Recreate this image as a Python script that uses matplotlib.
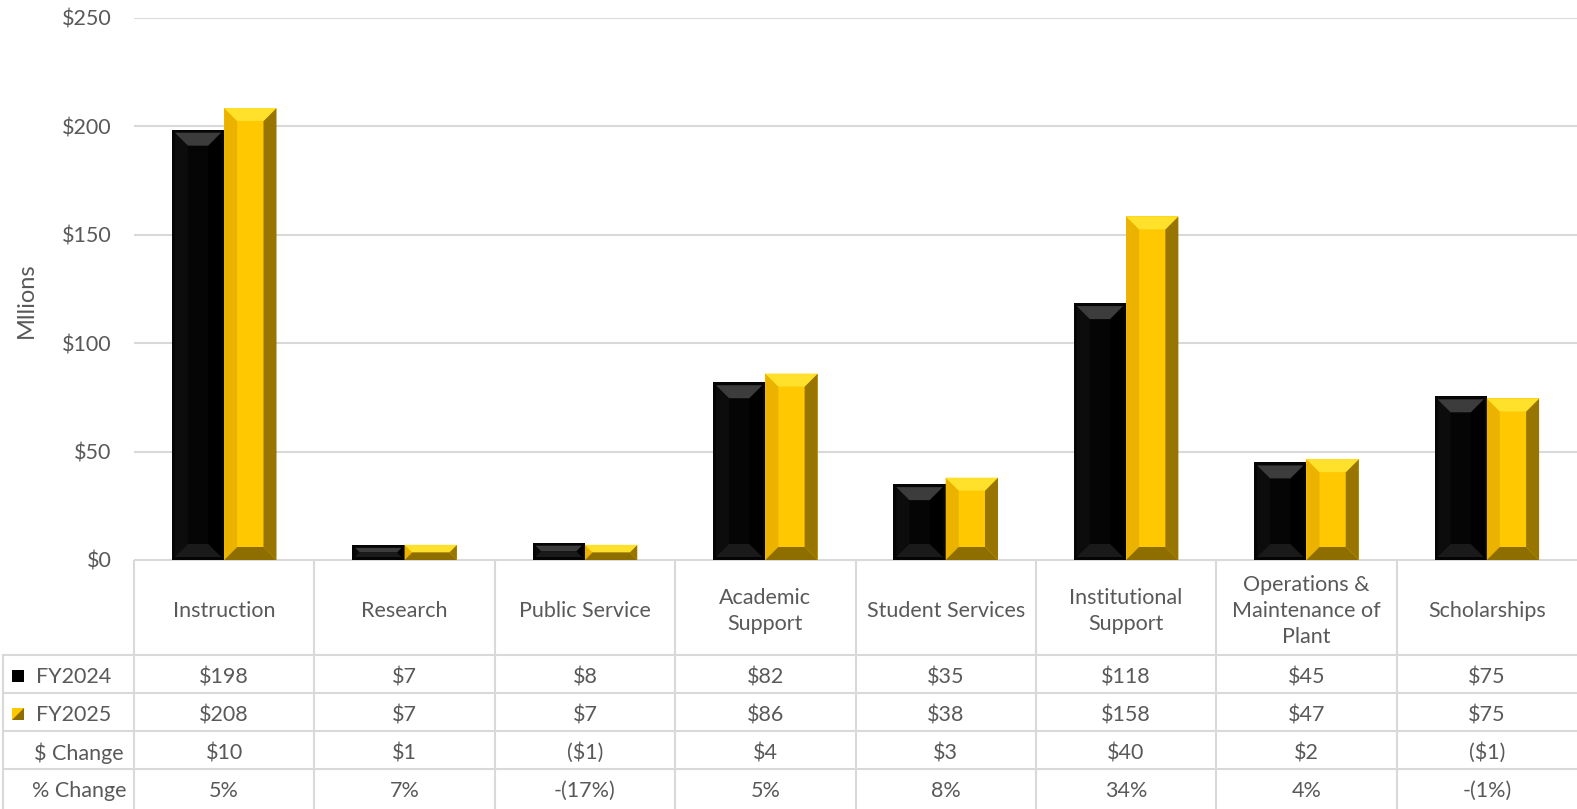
import matplotlib
matplotlib.use("Agg")
import matplotlib.pyplot as plt
from matplotlib.patches import Polygon, Rectangle

plt.rcParams['font.family'] = ['Lato', 'DejaVu Sans']

# data (millions of dollars)
categories = ['Instruction', 'Research', 'Public Service', 'Academic\nSupport',
              'Student Services', 'Institutional\nSupport',
              'Operations &\nMaintenance of\nPlant', 'Scholarships']
fy2024 = [198.5, 7, 8, 82, 35, 118.5, 45, 75.5]
fy2025 = [208.5, 7, 7, 86, 38, 158.5, 46.5, 74.5]
fy2024_txt = ['$198', '$7', '$8', '$82', '$35', '$118', '$45', '$75']
fy2025_txt = ['$208', '$7', '$7', '$86', '$38', '$158', '$47', '$75']
change_txt = ['$10', '$1', '($1)', '$4', '$3', '$40', '$2', '($1)']
pct_txt = ['5%', '7%', '-(17%)', '5%', '8%', '34%', '4%', '-(1%)']
yticks = [0, 50, 100, 150, 200, 250]

TXT = '#595959'
GRID = '#d9d9d9'
FS = 15.5

W, H = 1577, 809
fig = plt.figure(figsize=(W / 100, H / 100), dpi=100)
ax = fig.add_axes([134 / W, 249 / H, 1443 / W, 542 / H])
ax.set_xlim(0, len(categories))
ax.set_ylim(0, 250)
ax.set_yticks(yticks)
ax.set_yticklabels([f'${v}' for v in yticks])
ax.set_xticks([])
ax.tick_params(axis='y', length=0, pad=16, labelsize=FS, labelcolor=TXT)
ax.grid(axis='y', color=GRID, linewidth=1.5)
ax.set_axisbelow(True)
for s in ax.spines.values():
    s.set_visible(False)
ax.set_ylabel('Mllions', fontsize=17, color=TXT)
ax.yaxis.set_label_coords(-0.067, 0.48)

# pixel scale of the data units, for the bevel facets
p0, p1 = ax.transData.transform([(0, 0), (1, 1)])
xs, ys = p1[0] - p0[0], p1[1] - p0[1]

black = dict(main='#050505', top='#3c3c3c', bottom='#1a1a1a', left='#0c0c0c', right='#000000',
             inset=3)
gold = dict(main='#ffc800', top='#ffe02a', bottom='#8f6e00', left='#ebb200', right='#977500',
            inset=0)


def bevel_bar(x0, width, h, c):
    ax.add_patch(Rectangle((x0, 0), width, h, facecolor=c['main'], edgecolor='none', zorder=3))
    ins = min(c['inset'], h * ys / 4)
    x0, x1 = x0 + ins / xs, x0 + width - ins / xs
    y0, y1 = ins / ys, h - ins / ys
    b = min(13, (y1 - y0) * ys / 2)
    bx, by = b / xs, b / ys
    facets = [
        ('left', [(x0, y0), (x0, y1), (x0 + bx, y1 - by), (x0 + bx, y0 + by)]),
        ('right', [(x1, y0), (x1, y1), (x1 - bx, y1 - by), (x1 - bx, y0 + by)]),
        ('top', [(x0, y1), (x1, y1), (x1 - bx, y1 - by), (x0 + bx, y1 - by)]),
        ('bottom', [(x0, y0), (x1, y0), (x1 - bx, y0 + by), (x0 + bx, y0 + by)]),
    ]
    for k, pts in facets:
        ax.add_patch(Polygon(pts, closed=True, facecolor=c[k], edgecolor='none', zorder=4))


bw = 0.29
for i in range(len(categories)):
    c = i + 0.5
    bevel_bar(c - bw, bw, fy2024[i], black)
    bevel_bar(c, bw, fy2025[i], gold)

# data table below the chart (y in pixels, x in category units)
tx = fig.add_axes([0, 0, 1, 249 / H])
tx.set_xlim(-134 / xs, len(categories))
tx.set_ylim(0, 249)
tx.axis('off')

x_left = -134 / xs
n = len(categories)
row_lines = [249, 154, 116, 78, 40]
tx.plot([0, n], [249, 249], color=GRID, lw=1.5)
for yl in row_lines[1:]:
    tx.plot([x_left + 3 / xs, n], [yl, yl], color=GRID, lw=1.5)
for k in range(n):
    tx.plot([k, k], [0, 249], color=GRID, lw=1.5)
tx.plot([x_left + 3 / xs] * 2, [0, 154], color=GRID, lw=1.5)

for i, cat in enumerate(categories):
    tx.text(i + 0.5, 198, cat, ha='center', va='center', fontsize=FS, color=TXT,
            linespacing=1.4)

rows = [fy2024_txt, fy2025_txt, change_txt, pct_txt]
row_y = [132, 94, 56, 18]
for vals, yy in zip(rows, row_y):
    for i, v in enumerate(vals):
        tx.text(i + 0.5, yy, v, ha='center', va='center', fontsize=FS, color=TXT)

lx = x_left + 36 / xs
tx.text(lx, row_y[0], 'FY2024', ha='left', va='center', fontsize=FS, color=TXT)
tx.text(lx, row_y[1], 'FY2025', ha='left', va='center', fontsize=FS, color=TXT)
tx.text(x_left + 79 / xs, row_y[2], '$ Change', ha='center', va='center', fontsize=FS, color=TXT)
tx.text(x_left + 79 / xs, row_y[3], '% Change', ha='center', va='center', fontsize=FS, color=TXT)

# legend keys
sq = 12
kx0, kx1 = x_left + 12 / xs, x_left + (12 + sq) / xs
ky = row_y[0] + 1
tx.add_patch(Rectangle((kx0, ky - sq / 2), kx1 - kx0, sq, facecolor='#000000', edgecolor='none'))
ky = row_y[1] + 1
tx.add_patch(Polygon([(kx0, ky - sq / 2), (kx1, ky - sq / 2), (kx1, ky + sq / 2), (kx0, ky + sq / 2)],
                     facecolor='#8f6e00', edgecolor='none'))
tx.add_patch(Polygon([(kx0, ky - sq / 2), (kx1, ky + sq / 2), (kx0, ky + sq / 2)],
                     facecolor='#ffc800', edgecolor='none'))

fig.savefig('out.png', dpi=100)
